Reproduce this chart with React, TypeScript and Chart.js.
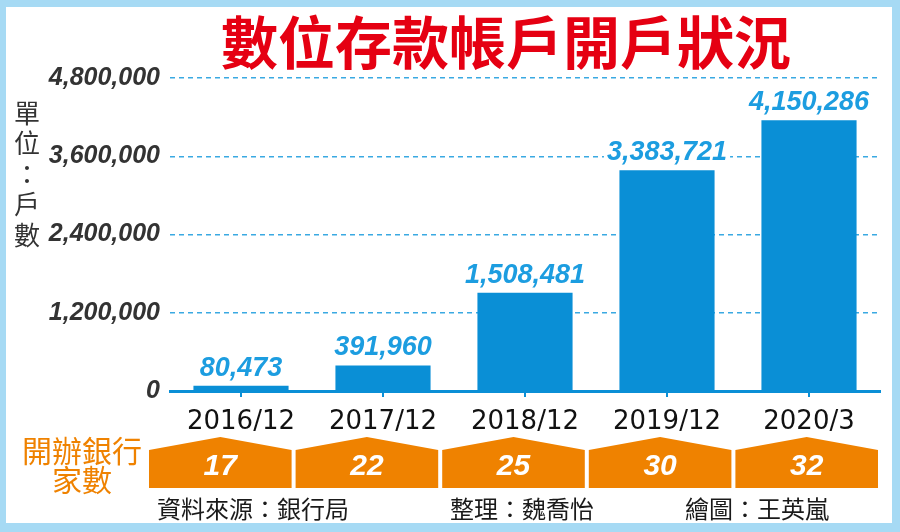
import { useEffect, useRef } from "react";
import { Chart, registerables } from "chart.js";

Chart.register(...registerables);

const categories = ["2016/12", "2017/12", "2018/12", "2019/12", "2020/3"];
const accounts = [80473, 391960, 1508481, 3383721, 4150286];
const bankCounts = [17, 22, 25, 30, 32];
const yTickValues = [0, 1200000, 2400000, 3600000, 4800000];
const titleText = "數位存款帳戶開戶狀況";
const unitChars = ["單", "位", "：", "戶", "數"];
const bankLabelLines = ["開辦銀行", "家數"];
const footerTexts = ["資料來源：銀行局", "整理：魏喬怡", "繪圖：王英嵐"];

const BLUE_BAR = "#0a8fd6";
const BLUE_LABEL = "#1c9de0";
const BLUE_GRID = "#3aa9e2";
const ORANGE = "#ef8200";
const RED = "#e50012";
const FRAME = "#a6daf4";
const CJK = '"Noto Sans CJK TC", "Noto Sans CJK SC", sans-serif';
const NUM = '"Liberation Sans", Arial, sans-serif';

const fmt = (n: number) => n.toString().replace(/\B(?=(\d{3})+(?!\d))/g, ",");

const decorPlugin = {
  id: "decor",
  beforeDraw(chart: any) {
    const { ctx, width, height } = chart;
    ctx.save();
    ctx.fillStyle = "#ffffff";
    ctx.fillRect(0, 0, width, height);
    ctx.fillStyle = FRAME;
    ctx.fillRect(0, 0, width, 7);
    ctx.fillRect(0, 0, 6, height);
    ctx.fillRect(width - 8, 0, 8, height);
    ctx.fillRect(0, height - 9, width, 9);
    ctx.restore();
  },
  afterDatasetsDraw(chart: any) {
    const { ctx } = chart;
    const meta = chart.getDatasetMeta(0);
    ctx.save();
    ctx.font = `italic bold 27px ${NUM}`;
    ctx.textAlign = "center";
    ctx.textBaseline = "alphabetic";
    meta.data.forEach((bar: any, i: number) => {
      const txt = fmt(accounts[i]);
      const w = ctx.measureText(txt).width;
      const by = bar.y - 10;
      ctx.fillStyle = "#ffffff";
      ctx.fillRect(bar.x - w / 2 - 3, by - 22, w + 6, 25);
      ctx.fillStyle = BLUE_LABEL;
      ctx.fillText(txt, bar.x, by);
    });
    ctx.restore();
  },
  afterDraw(chart: any) {
    const { ctx, chartArea } = chart;
    ctx.save();
    // Title
    ctx.fillStyle = RED;
    ctx.font = `bold 57px ${CJK}`;
    ctx.textAlign = "center";
    ctx.textBaseline = "middle";
    ctx.fillText(titleText, 506, 42);

    // Unit label (vertical)
    ctx.fillStyle = "#333333";
    ctx.font = `26px ${CJK}`;
    unitChars.forEach((c, i) => {
      ctx.fillText(c, 27, 113 + i * 30.5);
    });

    // Bank label
    ctx.fillStyle = ORANGE;
    ctx.font = `30px ${CJK}`;
    ctx.fillText(bankLabelLines[0], 82, 451);
    ctx.fillText(bankLabelLines[1], 82, 480);

    // Orange boxes with bank counts
    const left = 147;
    const right = chartArea.right;
    const n = bankCounts.length;
    const w = (right - left) / n;
    const gap = 4;
    bankCounts.forEach((v, i) => {
      const x0 = left + i * w + gap / 2;
      const x1 = left + (i + 1) * w - gap / 2;
      const cx = (x0 + x1) / 2;
      ctx.fillStyle = ORANGE;
      ctx.beginPath();
      ctx.moveTo(x0, 450);
      ctx.lineTo(cx, 437);
      ctx.lineTo(x1, 450);
      ctx.lineTo(x1, 488);
      ctx.lineTo(x0, 488);
      ctx.closePath();
      ctx.fill();
      ctx.fillStyle = "#ffffff";
      ctx.font = `italic bold 30px ${NUM}`;
      ctx.textAlign = "center";
      ctx.textBaseline = "middle";
      ctx.fillText(String(v), cx, 467);
    });

    // Footer
    ctx.fillStyle = "#1a1a1a";
    ctx.font = `24px ${CJK}`;
    ctx.textAlign = "left";
    ctx.textBaseline = "middle";
    ctx.fillText(footerTexts[0], 157, 509);
    ctx.fillText(footerTexts[1], 450, 509);
    ctx.fillText(footerTexts[2], 685, 509);
    ctx.restore();
  },
};

export default function App() {
  const ref = useRef<HTMLCanvasElement | null>(null);

  useEffect(() => {
    if (!ref.current) return;
    const chart = new Chart(ref.current, {
      type: "bar",
      data: {
        labels: categories,
        datasets: [
          {
            data: accounts,
            backgroundColor: BLUE_BAR,
            borderWidth: 0,
            barPercentage: 0.67,
            categoryPercentage: 1,
          },
        ],
      },
      options: {
        animation: false,
        responsive: false,
        devicePixelRatio: 1,
        layout: { padding: { top: 78, right: 20, left: 0, bottom: 0 } },
        plugins: {
          legend: { display: false },
          tooltip: { enabled: false },
          title: { display: false },
        },
        scales: {
          x: {
            afterFit: (scale: any) => {
              scale.height = 141;
            },
            grid: {
              display: true,
              drawOnChartArea: false,
              drawTicks: true,
              tickLength: 6,
              color: BLUE_BAR,
              lineWidth: 2,
              offset: false,
            },
            border: { display: true, color: BLUE_BAR, width: 3 },
            ticks: {
              color: "#111111",
              padding: 10,
              font: { family: '"DejaVu Sans", sans-serif', size: 26 },
            },
          },
          y: {
            min: 0,
            max: 4800000,
            afterFit: (scale: any) => {
              scale.width = 170;
            },
            afterBuildTicks: (scale: any) => {
              scale.ticks = yTickValues.map((v) => ({ value: v }));
            },
            grid: {
              drawTicks: false,
              color: (ctx: any) => (ctx.tick && ctx.tick.value === 0 ? "rgba(0,0,0,0)" : BLUE_GRID),
              lineWidth: 1.5,
            },
            border: { display: false, dash: [5, 4] },
            ticks: {
              color: "#333333",
              padding: 10,
              font: { family: NUM, size: 25, weight: "bold", style: "italic" },
              callback: (v: any) => fmt(Number(v)),
            },
          },
        },
      },
      plugins: [decorPlugin],
    });
    return () => chart.destroy();
  }, []);

  return (
    <div style={{ position: "absolute", left: 0, top: 0, width: 900, height: 532 }}>
      <canvas ref={ref} width={900} height={532} />
    </div>
  );
}
